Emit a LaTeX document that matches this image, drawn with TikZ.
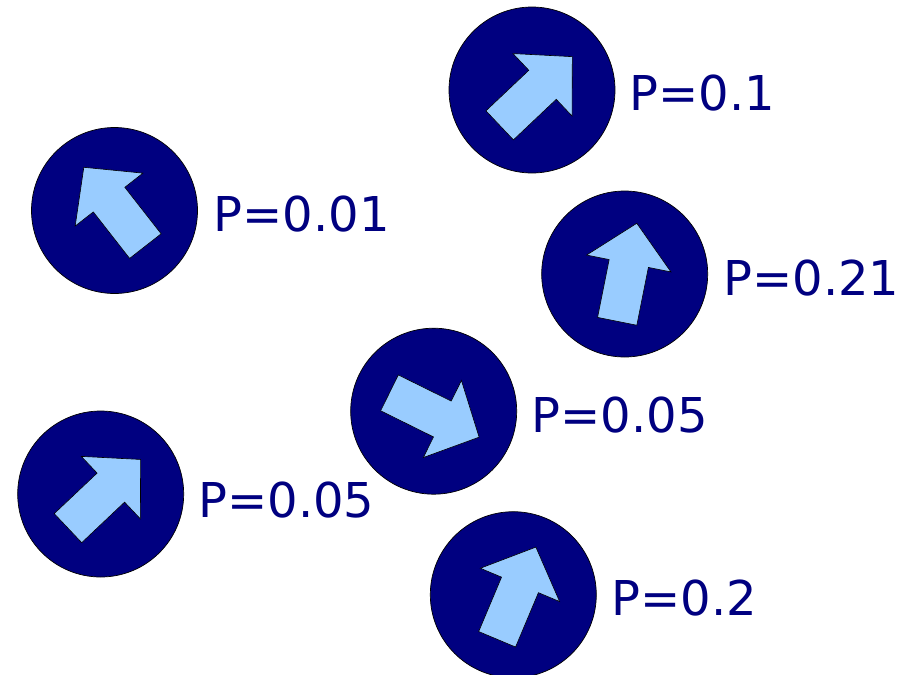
\documentclass[tikz,border=0pt]{standalone}
\usepackage{fontspec}
\usepackage{xcolor}
\usepackage{tikz}
\newfontfamily\problabelfont{DejaVu Sans}
\definecolor{spinnavy}{RGB}{0,0,128}
\definecolor{spinsky}{RGB}{153,204,255}
\tikzset{
  spindisc/.style={
    circle, draw=black, line width=0.7pt, fill=spinnavy,
    minimum size=166pt, inner sep=0pt
  },
  problabel/.style={
    anchor=base west, inner sep=0pt, text=spinnavy,
    font=\problabelfont\fontsize{48}{57}\selectfont
  },
  spinarrow/.pic={
    \draw[black, line width=0.6pt, fill=spinsky, line join=miter]
      (-50,20) -- (9,20) -- (9,43) -- (50,0) -- (9,-43) -- (9,-20)
      -- (-50,-20) -- cycle;
  },
}
\begin{document}
\begin{tikzpicture}[x=1pt, y=1pt]
  \useasboundingbox (0,0) rectangle (898,-675);

  % ── spins ──
  \node[spindisc] (spintop)   at (532,-90)      {};
  \node[spindisc] (spinleft)  at (114.5,-210.5) {};
  \node[spindisc] (spinright) at (624.7,-274)   {};
  \node[spindisc] (spinmid)   at (433.7,-411.2) {};
  \node[spindisc] (spinlow)   at (100.7,-494)   {};
  \node[spindisc] (spinbot)   at (513.3,-594.7) {};

  % ── arrows ──
  \pic[rotate=43.4]  at (536,-91)       {spinarrow};
  \pic[rotate=128]   at (114.6,-206.7)  {spinarrow};
  \pic[rotate=78.7]  at (627,-272.3)    {spinarrow};
  \pic[rotate=-26.3] at (434.3,-415)    {spinarrow};
  \pic[rotate=43.4]  at (104.3,-493.8)  {spinarrow};
  \pic[rotate=67.2]  at (516.5,-593.2)  {spinarrow};

  % ── probabilities ──
  \node[problabel] (ptop)   at (629.5,-110.7) {P=0.1};
  \node[problabel] (pleft)  at (213.5,-231.7) {P=0.01};
  \node[problabel] (pright) at (723.3,-295)   {P=0.21};
  \node[problabel] (pmid)   at (531.5,-432.7) {P=0.05};
  \node[problabel] (plow)   at (198.3,-517.3) {P=0.05};
  \node[problabel] (pbot)   at (611.5,-615)   {P=0.2};
\end{tikzpicture}
\end{document}
